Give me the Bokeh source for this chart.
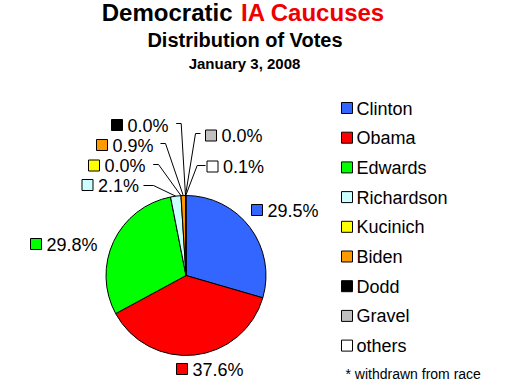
import math
from bokeh.plotting import figure
from bokeh.models import Range1d, ColumnDataSource
from bokeh.core.properties import value
from bokeh.embed import file_html
from bokeh.resources import INLINE

# ---------------- data ----------------
candidates = ["Clinton", "Obama", "Edwards", "Richardson", "Kucinich",
              "Biden", "Dodd", "Gravel", "others"]
shares = [29.5, 37.6, 29.8, 2.1, 0.0, 0.9, 0.0, 0.0, 0.1]
colors = ["#3366FF", "#FF0000", "#00FF00", "#CCFFFF", "#FFFF00",
          "#FF9900", "#000000", "#C0C0C0", "#FFFFFF"]
title_black = "Democratic"
title_red = "IA Caucuses"
subtitle = "Distribution of Votes"
date_text = "January 3, 2008"
footnote = "* withdrawn from race"

# ---------------- layout ----------------
W, H = 530, 391
FONT = value("Liberation Sans")
TK = 0.33  # empirical baseline correction (fraction of font size)


def Y(py):
    # page pixel row (top-down) -> data y (bottom-up)
    return H - py


def TY(py, size):
    # desired baseline row -> data y for a text glyph
    return Y(py - TK * size)


CX, CY, R = 185.5, Y(275), 80

# label square centres (page px) for each slice's percentage label
label_pos = [(256.5, 209.5), (181.5, 368.5), (35.5, 243.5), (87, 184.5),
             (93.5, 165), (101.5, 144.5), (116.5, 124.5), (210.5, 135),
             (212, 166)]
# leader lines: (start x, elbow x, y) in page px, None = no leader
leaders = [None, None, None, (143, 153, 185), (152.7, 158, 164),
           (160, 165, 143), (175.7, 180.7, 123), (200, 195, 133),
           (205, 196.7, 165)]

p = figure(width=W, height=H, x_range=Range1d(0, W), y_range=Range1d(0, H),
           output_backend="svg", toolbar_location=None,
           x_axis_type=None, y_axis_type=None, min_border=0,
           min_border_left=0, min_border_right=0, min_border_top=0, min_border_bottom=0)
p.outline_line_color = None
p.grid.visible = False
p.background_fill_color = "white"
p.border_fill_color = "white"

# ---------------- pie ----------------
starts, ends, mids = [], [], []
cum = 0.0
for v in shares:
    a0 = math.pi / 2 - 2 * math.pi * cum / 100.0
    cum += v
    a1 = math.pi / 2 - 2 * math.pi * cum / 100.0
    starts.append(a1)
    ends.append(a0)
    mids.append((a0 + a1) / 2)

nz = [i for i, v in enumerate(shares) if v > 0]
wsrc = ColumnDataSource(dict(
    x=[CX] * len(nz), y=[CY] * len(nz),
    start=[starts[i] for i in nz], end=[ends[i] for i in nz],
    color=[colors[i] for i in nz]))
p.wedge(x="x", y="y", radius=R, start_angle="start", end_angle="end",
        direction="anticlock", fill_color="color", line_color="black",
        line_width=1, source=wsrc)

# ---------------- leader lines ----------------
for i, ld in enumerate(leaders):
    if ld is None:
        continue
    sx, ex, ly = ld
    px = CX + R * math.cos(mids[i])
    py = CY + R * math.sin(mids[i])
    p.line([sx, ex, px], [Y(ly), Y(ly), py], line_color="black", line_width=1)

# ---------------- percentage labels ----------------
PCT_SIZE = 18
pct_text = ["%.1f%%" % v for v in shares]
lsrc = ColumnDataSource(dict(
    sx=[q[0] for q in label_pos], sy=[Y(q[1]) for q in label_pos],
    tx=[q[0] + 10.5 for q in label_pos],
    ty=[TY(q[1] + 6.5, PCT_SIZE) for q in label_pos],
    text=pct_text, color=colors))
p.rect(x="sx", y="sy", width=11, height=11, width_units="screen",
       height_units="screen", fill_color="color", line_color="black",
       line_width=1, source=lsrc)
p.text(x="tx", y="ty", text="text", text_font=FONT,
       text_font_size=value("%dpx" % PCT_SIZE),
       text_baseline="alphabetic", text_align="left", text_color="black",
       source=lsrc)

# ---------------- legend ----------------
LEG_SIZE = 18
leg_y0, leg_dy = 107.5, 29.7
gsrc = ColumnDataSource(dict(
    sx=[346.5] * len(candidates),
    sy=[Y(leg_y0 + leg_dy * i) for i in range(len(candidates))],
    tx=[356] * len(candidates),
    ty=[TY(leg_y0 + leg_dy * i + 6.5, LEG_SIZE) for i in range(len(candidates))],
    text=candidates, color=colors))
p.rect(x="sx", y="sy", width=11, height=11, width_units="screen",
       height_units="screen", fill_color="color", line_color="black",
       line_width=1, source=gsrc)
p.text(x="tx", y="ty", text="text", text_font=FONT,
       text_font_size=value("%dpx" % LEG_SIZE),
       text_baseline="alphabetic", text_align="left", text_color="black",
       source=gsrc)
p.text(x=[345], y=[TY(378, 14)], text=[footnote], text_font=FONT,
       text_font_size=value("14px"), text_baseline="alphabetic",
       text_align="left", text_color="black")

# ---------------- titles ----------------
p.text(x=[232], y=[TY(19.5, 24)], text=[title_black], text_font=FONT,
       text_font_size=value("24px"), text_font_style="bold",
       text_baseline="alphabetic", text_align="right", text_color="black")
p.text(x=[240.5], y=[TY(19.5, 24)], text=[title_red], text_font=FONT,
       text_font_size=value("24px"), text_font_style="bold",
       text_baseline="alphabetic", text_align="left", text_color="#EE0000")
p.text(x=[244.5], y=[TY(46, 20)], text=[subtitle], text_font=FONT,
       text_font_size=value("20px"), text_font_style="bold",
       text_baseline="alphabetic", text_align="center", text_color="black")
p.text(x=[244], y=[TY(67.5, 15)], text=[date_text], text_font=FONT,
       text_font_size=value("15px"), text_font_style="bold",
       text_baseline="alphabetic", text_align="center", text_color="black")

open("out.html", "w").write(file_html(p, INLINE))
